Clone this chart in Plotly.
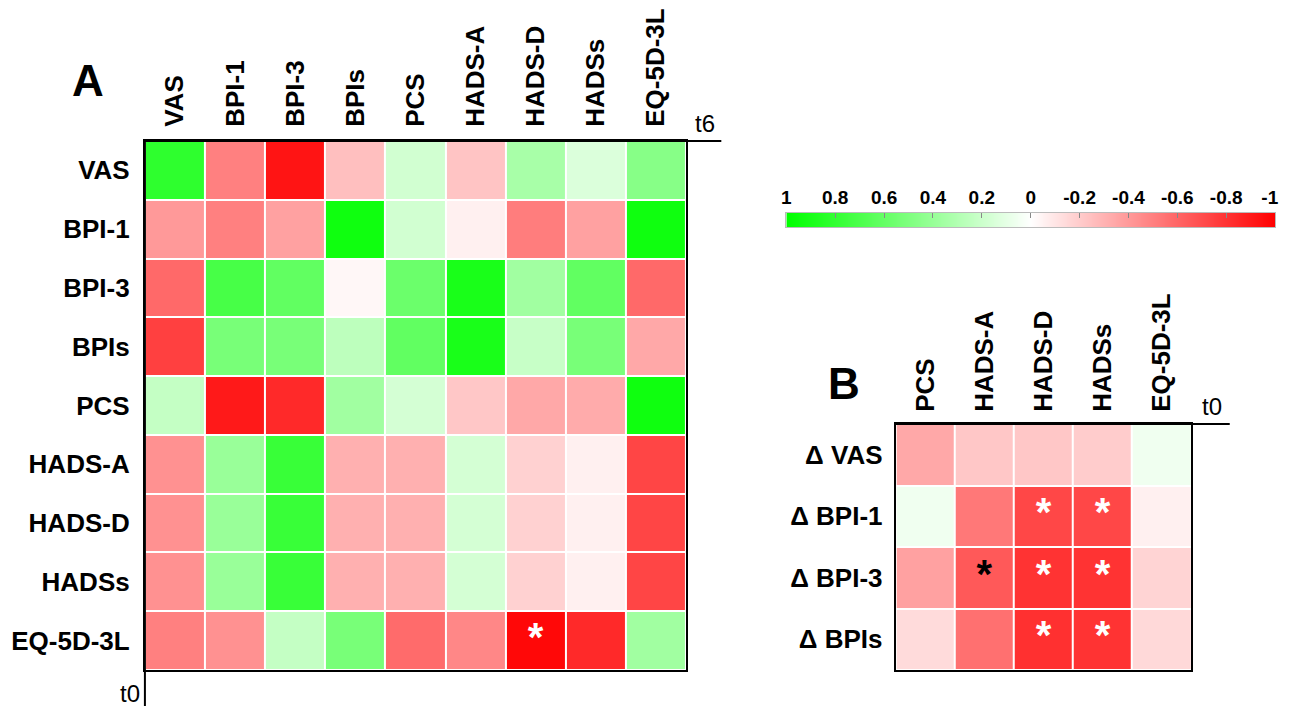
import plotly.graph_objects as go

# ---------------- data ----------------
rows_A = ["VAS", "BPI-1", "BPI-3", "BPIs", "PCS", "HADS-A", "HADS-D", "HADSs", "EQ-5D-3L"]
cols_A = ["VAS", "BPI-1", "BPI-3", "BPIs", "PCS", "HADS-A", "HADS-D", "HADSs", "EQ-5D-3L"]
z_A = [
    [0.82, -0.50, -0.92, -0.25, 0.18, -0.23, 0.34, 0.14, 0.47],
    [-0.40, -0.50, -0.37, 0.94, 0.18, -0.06, -0.51, -0.37, 0.94],
    [-0.59, 0.72, 0.62, -0.03, 0.58, 0.90, 0.37, 0.62, -0.59],
    [-0.75, 0.53, 0.53, 0.26, 0.62, 0.90, 0.22, 0.53, -0.34],
    [0.23, -0.90, -0.84, 0.37, 0.17, -0.22, -0.34, -0.33, 0.94],
    [-0.43, 0.40, 0.78, -0.31, -0.31, 0.17, -0.18, -0.06, -0.73],
    [-0.43, 0.40, 0.78, -0.31, -0.31, 0.17, -0.18, -0.06, -0.73],
    [-0.43, 0.40, 0.78, -0.31, -0.31, 0.17, -0.18, -0.06, -0.73],
    [-0.50, -0.43, 0.23, 0.53, -0.58, -0.47, -0.97, -0.84, 0.37],
]
stars_A_rows = ["EQ-5D-3L"]
stars_A_cols = ["HADS-D"]
stars_A_colors = ["white"]

rows_B = ["Δ VAS", "Δ BPI-1", "Δ BPI-3", "Δ BPIs"]
cols_B = ["PCS", "HADS-A", "HADS-D", "HADSs", "EQ-5D-3L"]
z_B = [
    [-0.34, -0.22, -0.22, -0.20, 0.06],
    [0.06, -0.53, -0.72, -0.72, -0.06],
    [-0.37, -0.65, -0.80, -0.80, -0.17],
    [-0.14, -0.56, -0.81, -0.80, -0.15],
]
stars_B_rows = ["Δ BPI-1", "Δ BPI-1", "Δ BPI-3", "Δ BPI-3", "Δ BPI-3", "Δ BPIs", "Δ BPIs"]
stars_B_cols = ["HADS-D", "HADSs", "HADS-A", "HADS-D", "HADSs", "HADS-D", "HADSs"]
stars_B_colors = ["white", "white", "black", "white", "white", "white", "white"]

cb_ticks = [1, 0.8, 0.6, 0.4, 0.2, 0, -0.2, -0.4, -0.6, -0.8, -1]
cb_ticktext = ["1", "0.8", "0.6", "0.4", "0.2", "0", "-0.2", "-0.4", "-0.6", "-0.8", "-1\u2007"]

# ---------------- styling ----------------
W, H = 1293, 706
colorscale = [[0.0, "#FF0000"], [0.5, "#FFFFFF"], [1.0, "#00FF00"]]
FONT = "Liberation Sans, Arial, sans-serif"
lab_font = dict(family=FONT, size=26, color="black", weight="bold")


def px_x(a, b):
    return [a / W, b / W]


def px_y(top, bottom):
    return [1 - bottom / H, 1 - top / H]


fig = go.Figure()

fig.add_trace(go.Heatmap(
    z=z_A, x=cols_A, y=rows_A, colorscale=colorscale, zmin=-1, zmax=1,
    xgap=2, ygap=2, showscale=False, xaxis="x", yaxis="y", hoverinfo="skip"))
fig.add_trace(go.Scatter(
    x=stars_A_cols, y=stars_A_rows, mode="text", text=["*"] * len(stars_A_cols),
    textfont=dict(family=FONT, size=40, color=stars_A_colors, weight="bold"),
    textposition="middle center", xaxis="x", yaxis="y", showlegend=False, hoverinfo="skip"))

fig.add_trace(go.Heatmap(
    z=z_B, x=cols_B, y=rows_B, colorscale=colorscale, zmin=-1, zmax=1,
    xgap=2, ygap=2, showscale=False, xaxis="x2", yaxis="y2", hoverinfo="skip"))
fig.add_trace(go.Scatter(
    x=stars_B_cols, y=stars_B_rows, mode="text", text=["*"] * len(stars_B_cols),
    textfont=dict(family=FONT, size=40, color=stars_B_colors, weight="bold"),
    textposition="middle center", xaxis="x2", yaxis="y2", showlegend=False, hoverinfo="skip"))

# colour bar drawn as a smooth heatmap on its own axis
fig.add_trace(go.Heatmap(
    z=[cb_ticks], x=cb_ticks, y=[0], colorscale=colorscale, zmin=-1, zmax=1,
    zsmooth="best", showscale=False, xaxis="x3", yaxis="y3", hoverinfo="skip"))

common_x = dict(type="category", side="top", tickangle=-90, tickfont=lab_font,
                showgrid=False, zeroline=False, showline=True, linewidth=2,
                linecolor="black", mirror=True, ticks="", fixedrange=True)
common_y = dict(type="category", autorange="reversed", tickfont=lab_font,
                showgrid=False, zeroline=False, showline=True, linewidth=2,
                linecolor="black", mirror=True, ticks="", fixedrange=True)

fig.update_layout(
    width=W, height=H, margin=dict(l=0, r=0, t=0, b=0),
    paper_bgcolor="white", plot_bgcolor="white", showlegend=False,
    xaxis=dict(domain=px_x(142, 691), anchor="y", ticklabelstandoff=7, **common_x),
    yaxis=dict(domain=px_y(141, 670), anchor="x", ticklabelstandoff=8, **common_y),
    xaxis2=dict(domain=px_x(904, 1204), anchor="y2", ticklabelstandoff=5, **common_x),
    yaxis2=dict(domain=px_y(424, 670), anchor="x2", ticklabelstandoff=6, **common_y),
    xaxis3=dict(domain=px_x(793, 1289), anchor="y3", range=[1, -1], side="top",
                tickvals=cb_ticks, ticktext=cb_ticktext, ticklabeloverflow="allow",
                tickfont=dict(family=FONT, size=19, color="black", weight="bold"),
                ticks="inside", ticklen=5, tickcolor="#888888", tickwidth=1,
                showline=True, mirror=True, linecolor="#bbbbbb", linewidth=1,
                showgrid=False, zeroline=False, fixedrange=True, ticklabelstandoff=0),
    yaxis3=dict(domain=px_y(213, 227), anchor="x3", range=[-0.5, 0.5],
                showticklabels=False, ticks="", showline=True, mirror=True,
                linecolor="#bbbbbb", linewidth=1, showgrid=False, zeroline=False,
                fixedrange=True),
)

# extended frame lines
fig.add_shape(type="line", xref="x domain", yref="y domain", x0=0, x1=(727 - 142) / (691 - 142),
              y0=1, y1=1, line=dict(color="black", width=2))
fig.add_shape(type="line", xref="x domain", yref="y domain", x0=0, x1=0,
              y0=1, y1=-0.1, line=dict(color="black", width=2))
fig.add_shape(type="line", xref="x2 domain", yref="y2 domain", x0=0, x1=(1243 - 904) / (1204 - 904),
              y0=1, y1=1, line=dict(color="black", width=2))

ann_big = dict(family=FONT, size=44, color="black", weight="bold")
ann_small = dict(family=FONT, size=24, color="black")
fig.add_annotation(x=84 / W, y=1 - 81 / H, xref="paper", yref="paper", text="A",
                   showarrow=False, font=ann_big, xanchor="center", yanchor="middle")
fig.add_annotation(x=852 / W, y=1 - 383 / H, xref="paper", yref="paper", text="B",
                   showarrow=False, font=ann_big, xanchor="center", yanchor="middle")
fig.add_annotation(x=698 / W, y=1 - 139 / H, xref="paper", yref="paper", text="t6",
                   showarrow=False, font=ann_small, xanchor="left", yanchor="bottom")
fig.add_annotation(x=139 / W, y=1 - 693 / H, xref="paper", yref="paper", text="t0",
                   showarrow=False, font=ann_small, xanchor="right", yanchor="middle")
fig.add_annotation(x=1213 / W, y=1 - 422 / H, xref="paper", yref="paper", text="t0",
                   showarrow=False, font=ann_small, xanchor="left", yanchor="bottom")

fig.write_html("out.html", config={"displayModeBar": False},
               post_script="document.body.style.margin='0';document.body.style.overflow='hidden';")
